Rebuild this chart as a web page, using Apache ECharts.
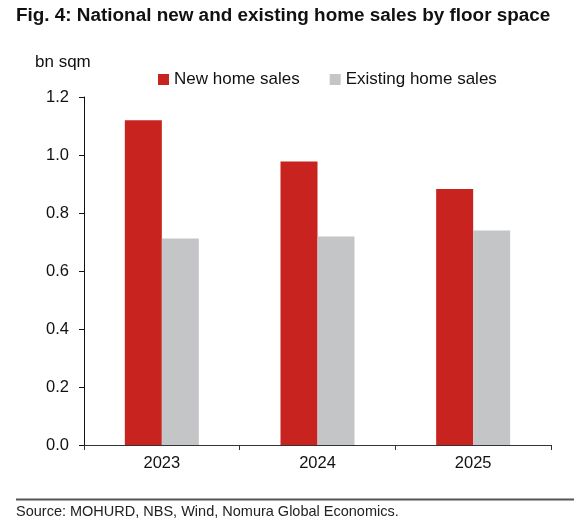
<!DOCTYPE html>
<html>
<head>
<meta charset="utf-8">
<style>
html,body{margin:0;padding:0;background:#fff;}
#chart{width:581px;height:530px;}
</style>
<script src="https://cdn.jsdelivr.net/npm/echarts@6/dist/echarts.min.js"></script>
</head>
<body>
<div id="chart"></div>
<script>
var years = ['2023', '2024', '2025'];
var newSales = [1.12, 0.978, 0.883];
var existingSales = [0.712, 0.719, 0.74];
var yTicks = [0, 0.2, 0.4, 0.6, 0.8, 1.0, 1.2];

var font = 'Liberation Sans, Arial, sans-serif';
var chart = echarts.init(document.getElementById('chart'));
chart.setOption({
	animation: false,
	textStyle: {fontFamily: font},
	graphic: [
		{type: 'text', left: 16, top: 6, style: {text: 'Fig. 4: National new and existing home sales by floor space', font: 'bold 18.9px ' + font, fill: '#111'}},
		{type: 'text', left: 35, top: 54, style: {text: 'bn sqm', font: '17px ' + font, fill: '#111'}},
		{type: 'line', shape: {x1: 16, y1: 499.5, x2: 574, y2: 499.5}, style: {stroke: '#555', lineWidth: 2}},
		{type: 'text', left: 16, top: 504, style: {text: 'Source: MOHURD, NBS, Wind, Nomura Global Economics.', font: '14.5px ' + font, fill: '#222'}}
	],
	legend: {
		left: 158,
		top: 71,
		padding: 0,
		itemWidth: 11,
		itemHeight: 11,
		itemGap: 30,
		icon: 'rect',
		textStyle: {fontSize: 17, color: '#111', fontFamily: font}
	},
	grid: {left: 84, right: 30, top: 97, bottom: 85, containLabel: false},
	xAxis: {
		type: 'category',
		data: years,
		axisLine: {lineStyle: {color: '#333', width: 1}},
		axisTick: {show: true, length: 5, lineStyle: {color: '#333'}},
		axisLabel: {fontSize: 16.5, color: '#111', margin: 10, fontFamily: font}
	},
	yAxis: {
		type: 'value',
		min: yTicks[0],
		max: yTicks[yTicks.length - 1],
		interval: 0.2,
		axisLine: {show: true, lineStyle: {color: '#111', width: 1}},
		axisTick: {show: true, length: 5, lineStyle: {color: '#111'}},
		splitLine: {show: false},
		axisLabel: {fontSize: 16.5, color: '#111', margin: 15, fontFamily: font,
			formatter: function (v) { return v.toFixed(1); }}
	},
	series: [
		{name: 'New home sales', type: 'bar', data: newSales, barWidth: 37, barGap: '0%', itemStyle: {color: '#c8231f'}},
		{name: 'Existing home sales', type: 'bar', data: existingSales, barWidth: 37, barGap: '0%', itemStyle: {color: '#c4c5c7'}}
	]
});
</script>
</body>
</html>
